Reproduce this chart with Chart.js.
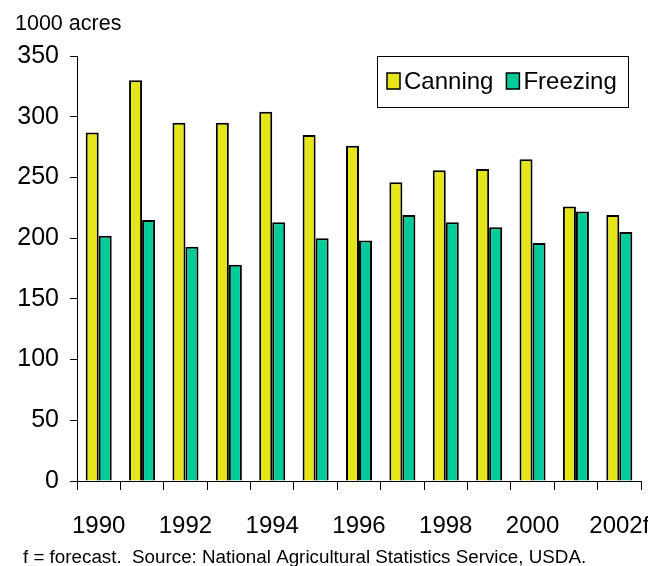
<!DOCTYPE html>
<html>
<head>
<meta charset="utf-8">
<script src="https://cdn.jsdelivr.net/npm/chart.js@4/dist/chart.umd.min.js"></script>
<style>
  body { margin: 0; background: #fff; }
  #wrap { position: relative; width: 648px; height: 566px; }
</style>
</head>
<body>
<div id="wrap"><canvas id="chartCanvas"></canvas></div>
<script>
const years = ["1990", "1991", "1992", "1993", "1994", "1995", "1996",
  "1997", "1998", "1999", "2000", "2001", "2002f"];
const canning = [287, 330, 295, 295, 304, 285, 276, 246, 256, 257, 265, 226, 219];
const freezing = [202, 215, 193, 178, 213, 200, 198, 219, 213, 209, 196, 222, 205];
const yTicks = [0, 50, 100, 150, 200, 250, 300, 350];

const yellow = "#E5E519";
const teal = "#00CC99";
const font = "'Liberation Sans', Arial, sans-serif";

// unit label, footnote and boxed legend
const extras = {
  id: "extras",
  afterDraw(chart) {
    const ctx = chart.ctx;
    ctx.save();
    ctx.fillStyle = "#000";
    ctx.textBaseline = "alphabetic";
    ctx.textAlign = "left";
    ctx.font = "21.5px " + font;
    ctx.fillText("1000 acres", 15, 30);
    ctx.font = "18.8px " + font;
    ctx.fillText("f = forecast.  Source: National Agricultural Statistics Service, USDA.", 23, 563);

    // legend
    const bx = 377, by = 56, bw = 251, bh = 51;
    ctx.fillStyle = "#fff";
    ctx.fillRect(bx, by, bw, bh);
    ctx.strokeStyle = "#000";
    ctx.lineWidth = 1;
    ctx.strokeRect(bx + 0.5, by + 0.5, bw, bh);
    ctx.font = "24px " + font;
    ctx.textBaseline = "middle";
    let x = bx + 10;
    chart.data.datasets.forEach((ds) => {
      ctx.fillStyle = ds.backgroundColor;
      ctx.fillRect(x, by + 17, 13, 16);
      ctx.lineWidth = 1.5;
      ctx.strokeRect(x, by + 17, 13, 16);
      ctx.fillStyle = "#000";
      ctx.fillText(ds.label, x + 17, by + 26);
      x += 17 + ctx.measureText(ds.label).width + 13;
    });
    ctx.restore();
  },
};

const ctx = document.getElementById("chartCanvas").getContext("2d");
new Chart(ctx, {
  type: "bar",
  data: {
    labels: years,
    datasets: [
      {
        label: "Canning",
        data: canning,
        backgroundColor: yellow,
        borderColor: "#000",
        borderWidth: 2,
        categoryPercentage: 0.6,
        barPercentage: 1.0,
      },
      {
        label: "Freezing",
        data: freezing,
        backgroundColor: teal,
        borderColor: "#000",
        borderWidth: 2,
        categoryPercentage: 0.6,
        barPercentage: 1.0,
      },
    ],
  },
  options: {
    responsive: true,
    maintainAspectRatio: false,
    animation: false,
    layout: { padding: { top: 56, right: 7, left: 0, bottom: 0 } },
    plugins: {
      legend: { display: false },
      title: { display: false },
      tooltip: { enabled: false },
    },
    scales: {
      x: {
        offset: true,
        grid: {
          offset: true,
          drawOnChartArea: false,
          color: "#000",
          tickLength: 9,
        },
        border: { color: "#000", width: 1 },
        ticks: {
          autoSkip: false,
          maxRotation: 0,
          padding: 22,
          color: "#000",
          font: { family: font, size: 24 },
          callback: function (value, index) {
            return index % 2 === 0 ? years[index] : "";
          },
        },
        afterFit(scale) {
          scale.height = 85;
          scale.paddingLeft = 0;
          scale.paddingRight = 0;
        },
      },
      y: {
        min: yTicks[0],
        max: yTicks[yTicks.length - 1],
        afterBuildTicks(scale) {
          scale.ticks = yTicks.map((v) => ({ value: v }));
        },
        grid: {
          drawOnChartArea: false,
          color: "#000",
          tickLength: 7,
        },
        border: { color: "#000", width: 1 },
        ticks: {
          padding: 11,
          color: "#000",
          font: { family: font, size: 25 },
        },
        afterFit(scale) {
          scale.width = 77;
        },
      },
    },
  },
  plugins: [extras],
});
</script>
</body>
</html>
